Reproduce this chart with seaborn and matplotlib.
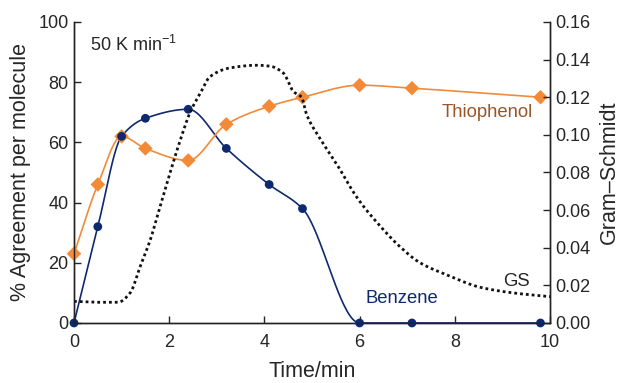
import numpy as np
import matplotlib
matplotlib.use("Agg")
import matplotlib.pyplot as plt
import seaborn as sns

# Dados
tempo = [0, 0.5, 1.0, 1.5, 2.4, 3.2, 4.1, 4.8, 6.0, 7.1, 9.8]
benzeno = [0, 32, 62, 68, 71, 58, 46, 38, 0, 0, 0]
tiofenol = [23, 46, 62, 58, 54, 66, 72, 75, 79, 78, 75]

gs_tempo = [0, 0.5, 0.92, 1.18, 1.39, 1.6, 1.81, 2.02, 2.23, 2.44, 2.65, 2.86,
            3.28, 3.84, 4.12, 4.4, 4.61, 4.78, 4.89, 5.17, 5.53, 5.95, 6.45,
            6.85, 7.27, 7.84, 8.53, 9.22, 10.0]
gs_valor = [0.0115, 0.011, 0.011, 0.016, 0.030, 0.044, 0.062, 0.080, 0.097,
            0.112, 0.122, 0.131, 0.1356, 0.137, 0.1365, 0.1328, 0.123, 0.120,
            0.1106, 0.098, 0.084, 0.0665, 0.051, 0.0405, 0.032, 0.0255, 0.019,
            0.016, 0.014]

LARANJA = "#f28a38"
MARINHO = "#0e2a6e"
MARROM = "#9a5426"


def suavizar(x, y, n=40):
    """Curva monotônica (PCHIP) apenas para desenhar a linha entre os pontos."""
    x = np.asarray(x, float)
    y = np.asarray(y, float)
    h = np.diff(x)
    d = np.diff(y) / h
    m = np.zeros_like(y)
    for k in range(1, len(x) - 1):
        if d[k - 1] * d[k] > 0:
            w1 = 2 * h[k] + h[k - 1]
            w2 = h[k] + 2 * h[k - 1]
            m[k] = (w1 + w2) / (w1 / d[k - 1] + w2 / d[k])
    m[0] = d[0]
    m[-1] = d[-1]
    xs, ys = [], []
    for k in range(len(x) - 1):
        t = np.linspace(0, 1, n, endpoint=False)
        h00 = 2 * t**3 - 3 * t**2 + 1
        h10 = t**3 - 2 * t**2 + t
        h01 = -2 * t**3 + 3 * t**2
        h11 = t**3 - t**2
        xs.append(x[k] + t * h[k])
        ys.append(h00 * y[k] + h10 * h[k] * m[k] + h01 * y[k + 1] + h11 * h[k] * m[k + 1])
    xs.append([x[-1]])
    ys.append([y[-1]])
    return np.concatenate(xs), np.concatenate(ys)


sns.set_style("ticks")
plt.rcParams["font.family"] = ["Liberation Sans", "DejaVu Sans"]
plt.rcParams["mathtext.default"] = "regular"

fig = plt.figure(figsize=(6.25, 3.83), dpi=100)
ax = fig.add_axes([0.1184, 0.1567, 0.7616, 0.7859])
ax2 = ax.twinx()

# linhas suavizadas
for y, cor in [(benzeno, MARINHO), (tiofenol, LARANJA)]:
    xs, ys = suavizar(tempo, y)
    sns.lineplot(x=xs, y=ys, ax=ax, color=cor, linewidth=1.2, sort=False)

sns.scatterplot(x=tempo, y=tiofenol, ax=ax, marker="D", s=55, color=LARANJA,
                edgecolor="none", clip_on=False, zorder=4)
sns.scatterplot(x=tempo, y=benzeno, ax=ax, marker="o", s=40, color=MARINHO,
                edgecolor="none", clip_on=False, zorder=4)

xg, yg = suavizar(gs_tempo, gs_valor, n=20)
ax2.plot(xg, yg, color="#111111", linewidth=2.0, linestyle=(0, (1, 1.1)))

ax.set_xlim(0, 10)
ax.set_ylim(0, 100)
ax2.set_ylim(0, 0.16)
ax.set_xticks(range(0, 11, 2))
ax.set_yticks(range(0, 101, 20))
ax2.set_yticks(np.arange(0, 0.161, 0.02))
ax2.set_yticklabels([f"{v:.2f}" for v in np.arange(0, 0.161, 0.02)])

for a in (ax, ax2):
    a.tick_params(direction="in", length=5, width=1, labelsize=13, pad=4)
    a.spines["top"].set_visible(False)
    for s in a.spines.values():
        s.set_linewidth(1.0)
        s.set_color("#222222")
ax.tick_params(axis="x", pad=8)

ax.set_xlabel("Time/min", fontsize=15.5, labelpad=7)
ax.set_ylabel("% Agreement per molecule", fontsize=15.5, labelpad=5)
ax2.set_ylabel("Gram\u2013Schmidt", fontsize=15.5, labelpad=6)

ax.text(0.34, 92.4, "50 K min$^{\u22121}$", fontsize=13, va="center")
ax.text(8.68, 69.8, "Thiophenol", fontsize=13.3, color=MARROM, va="center", ha="center")
ax.text(6.89, 8.3, "Benzene", fontsize=13.3, color=MARINHO, va="center", ha="center")
ax2.text(9.3, 0.0218, "GS", fontsize=13.3, ha="center", va="center")

fig.savefig("out.png", dpi=100)
